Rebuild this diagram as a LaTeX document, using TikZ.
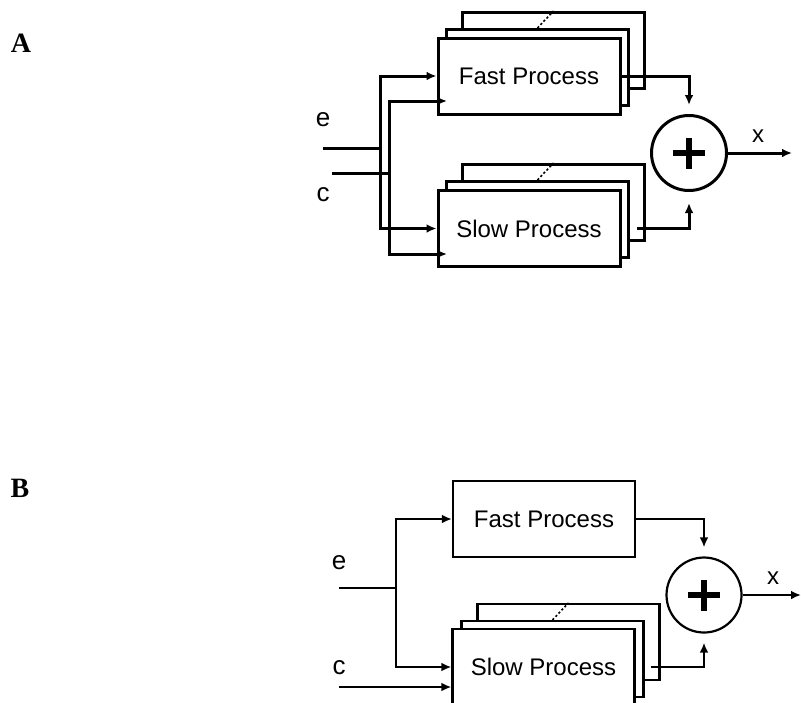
\documentclass[tikz,border=0pt]{standalone}
\usepackage{fontspec}
\setmainfont{Liberation Serif}
\setsansfont{Liberation Sans}
\usetikzlibrary{arrows.meta,calc}
\tikzset{
  proc/.style  = {draw, fill=white, minimum width=91pt, minimum height=38pt,
                  inner sep=0pt, font=\sffamily\fontsize{12}{14}\selectfont},
  sum/.style   = {draw, circle, fill=white, minimum size=37.5pt, inner sep=0pt,
                  path picture={\draw[line width=2.6pt]
                    ([xshift=-8pt]path picture bounding box.center) -- ++(16pt,0)
                    ([yshift=-7.75pt]path picture bounding box.center) -- ++(0,15.5pt);}},
  sig/.style   = {font=\sffamily\fontsize{13}{15}\selectfont},
  outl/.style  = {font=\sffamily\fontsize{12}{14}\selectfont},
  arr/.style   = {-{Latex[length=5pt,width=4.4pt]}},
  dots/.style  = {line width=0.8pt, dash pattern=on 1.1pt off 1.1pt},
  panel/.style = {font=\bfseries\fontsize{14}{16}\selectfont}
}

\begin{document}
\begin{tikzpicture}[x=0.5pt,y=-0.5pt]
\useasboundingbox (0,0) rectangle (801,702);
\clip (0,0) rectangle (801,702);

\node[panel] (labA) at (21,43) {A};
\node[panel] (labB) at (20,488) {B};

% ---- A: both processes stacked
\begin{scope}[line width=1.5pt]
\node[proc] (fastA3) at (553.5,50.5) {};
\node[proc] (fastA2) at (537.5,67.5) {};
\node[proc] (fastA) at (529,76) {Fast Process};
\draw[dots] (fastA2.north) -- (fastA3.north);

\node[proc] (slowA3) at (553.5,202.5) {};
\node[proc] (slowA2) at (537.5,219.5) {};
\node[proc] (slowA) at (529,228.5) {Slow Process};
\draw[dots] (slowA2.north) -- (slowA3.north);

\node[sum] (sumA) at (689,153) {};

\node[sig] (eA) at (323,120) {e};
\node[sig] (cA) at (323,195) {c};
\node[outl] (xA) at (758,136) {x};

\coordinate (einA) at (323,148);
\coordinate (jeA) at (380,148);
\coordinate (cinA) at (332,173);
\coordinate (jcA) at (389,173);
\coordinate (cfA) at (447,101);
\coordinate (csA) at (447,254);
\coordinate (soA) at (637,228.5);
\coordinate (outA) at (792,153);

\draw (einA) -- (jeA);
\draw[arr] (jeA) |- (fastA.west);
\draw[arr] (jeA) |- (slowA.west);
\draw (cinA) -- (jcA);
\draw[arr] (jcA) |- (cfA);
\draw[arr] (jcA) |- (csA);
\draw[arr, shorten >=4.5pt] (fastA.east) -| (sumA.north);
\draw[arr, shorten >=5.5pt] (soA) -| (sumA.south);
\draw[arr] (sumA.east) -- (outA);
\end{scope}

% ---- B: only the slow process stacked
\begin{scope}[line width=1.1pt]
\node[proc] (fastB) at (544,519) {Fast Process};

\node[proc] (slowB3) at (568.5,642) {};
\node[proc] (slowB2) at (552.5,659) {};
\node[proc] (slowB) at (543.5,667) {Slow Process};
\draw[dots] (slowB2.north) -- (slowB3.north);

\node[sum] (sumB) at (704,595) {};

\node[sig] (eB) at (339,563) {e};
\node[sig] (cB) at (339,668) {c};
\node[outl] (xB) at (773,578) {x};

\coordinate (einB) at (339,588);
\coordinate (jeB) at (396,588);
\coordinate (cinB) at (339,687);
\coordinate (soB) at (651,667);
\coordinate (outB) at (801,595);

\draw (einB) -- (jeB);
\draw[arr] (jeB) |- (fastB.west);
\draw[arr] (jeB) |- (slowB.west);
\draw[arr] (cinB) -- (cinB -| slowB.west);
\draw[arr, shorten >=4.5pt] (fastB.east) -| (sumB.north);
\draw[arr, shorten >=4.5pt] (soB) -| (sumB.south);
\draw[arr] (sumB.east) -- (outB);
\end{scope}
\end{tikzpicture}
\end{document}
